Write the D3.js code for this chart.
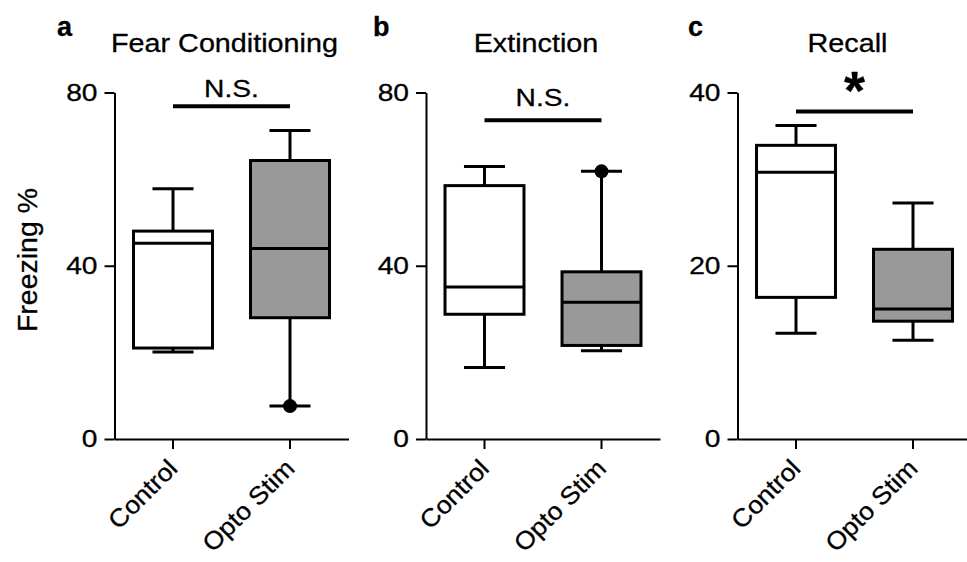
<!DOCTYPE html>
<html lang="en">
	<head>
		<meta charset="utf-8">
		<title>Freezing % - Fear Conditioning, Extinction, Recall</title>
		<script type="text/javascript" src="https://cdn.jsdelivr.net/npm/d3@7"></script>
		<style type="text/css">
			body {
				margin: 0px;
				background: #fff;
			}
			text {
				font-family: "Liberation Sans", Arial, Helvetica, sans-serif;
				fill: #000;
				stroke: #000;
				stroke-width: 0.3px;
			}
		</style>
	</head>
	<body>
		<div id="chart"></div>
		<script type="text/javascript">
		//Data
			var groups = ["Control", "Opto Stim"];
			var panelLetters = ["a", "b", "c"];
			var titles = ["Fear Conditioning", "Extinction", "Recall"];
			var yMax = [80, 80, 40];
			var yTicks = [[0, 40, 80], [0, 40, 80], [0, 20, 40]];

			// box stats: [min, q1, median, q3, max]
			var controlStats = [
				[20.1, 21.0, 45.2, 48.0, 57.8],
				[16.5, 28.8, 35.1, 58.5, 62.9],
				[12.2, 16.35, 30.8, 33.9, 36.2]
			];
			var optoStats = [
				[7.6, 28.0, 44.0, 64.3, 71.2],
				[20.4, 21.6, 31.6, 38.6, 61.8],
				[11.4, 13.6, 15.0, 21.9, 27.25]
			];
			// filled dots at whisker ends (Opto Stim)
			var optoDots = [[7.6], [61.8], []];

			var sigLabels = ["N.S.", "N.S.", "*"];
			var sigLevels = [76.8, 73.6, 37.8];

		//Layout
			var w = 967;
			var h = 562;
			var axisX = [114.5, 426, 737.5];
			var axisW = 234;
			var yTop = 92.5;
			var yBottom = 439;
			var letterX = [57, 373, 688];
			var sigTextDy = [-9, -14, -3];
			var sx = 1.15; // wide sans look

			var svg = d3.select("#chart")
				.append("svg")
				.attr("width", w)
				.attr("height", h);

			// stretch a text horizontally around its own anchor
			function stretch(sel, k) {
				sel.attr("transform", function() {
					var x = +d3.select(this).attr("x") || 0;
					return "translate(" + x + ",0) scale(" + k + ",1) translate(" + (-x) + ",0)";
				});
			}

			// y axis label
			svg.append("text")
				.attr("transform", "translate(37,260) rotate(-90)")
				.attr("text-anchor", "middle")
				.attr("font-size", "28.5px")
				.text("Freezing %");

			panelLetters.forEach(function(letter, i) {
				var g = svg.append("g")
					.attr("transform", "translate(" + axisX[i] + ",0)");

				var x = d3.scaleBand()
					.domain(groups)
					.range([0, axisW]);

				var y = d3.scaleLinear()
					.domain([0, yMax[i]])
					.range([yBottom, yTop]);

				var boxW = x.bandwidth() * 0.675;
				var capW = boxW * 0.52;

				// panel letter
				svg.append("text")
					.attr("x", letterX[i])
					.attr("y", 36)
					.attr("font-size", "27px")
					.attr("font-weight", "bold")
					.text(letter);

				// title
				g.append("text")
					.attr("x", 110)
					.attr("y", 52)
					.attr("text-anchor", "middle")
					.attr("font-size", "25px")
					.text(titles[i])
					.call(stretch, sx);

				// y axis
				var yAxis = g.append("g")
					.attr("class", "y-axis")
					.call(d3.axisLeft(y)
						.tickValues(yTicks[i])
						.tickSize(10)
						.tickSizeOuter(0)
						.tickPadding(7));

				// x axis
				var xAxis = g.append("g")
					.attr("class", "x-axis")
					.attr("transform", "translate(0," + yBottom + ")")
					.call(d3.axisBottom(x)
						.tickSize(10)
						.tickSizeOuter(0)
						.tickFormat(""));

				g.selectAll(".domain, .tick line")
					.attr("stroke", "#000")
					.attr("stroke-width", 2);

				yAxis.selectAll(".tick text")
					.attr("font-size", "24.5px")
					.attr("fill", "#000")
					.call(stretch, sx);

				// rotated category labels
				g.selectAll(".cat-label")
					.data(groups)
					.enter()
					.append("text")
					.attr("class", "cat-label")
					.attr("text-anchor", "end")
					.attr("font-size", "25px")
					.attr("transform", function(d) {
						var cx = x(d) + x.bandwidth() / 2;
						return "translate(" + (cx + 6) + "," + (yBottom + 31) + ") rotate(-45) scale(1.06,1)";
					})
					.text(function(d) { return d; });

				// boxes
				var boxes = [
					{group: groups[0], s: controlStats[i], fill: "#fff", dots: []},
					{group: groups[1], s: optoStats[i], fill: "#999", dots: optoDots[i]}
				];

				var bg = g.selectAll(".box")
					.data(boxes)
					.enter()
					.append("g")
					.attr("class", "box")
					.attr("transform", function(d) {
						return "translate(" + (x(d.group) + x.bandwidth() / 2) + ",0)";
					});

				// whisker lines
				bg.append("line")
					.attr("x1", 0).attr("x2", 0)
					.attr("y1", function(d) { return y(d.s[4]); })
					.attr("y2", function(d) { return y(d.s[3]); })
					.attr("stroke", "#000").attr("stroke-width", 3);
				bg.append("line")
					.attr("x1", 0).attr("x2", 0)
					.attr("y1", function(d) { return y(d.s[1]); })
					.attr("y2", function(d) { return y(d.s[0]); })
					.attr("stroke", "#000").attr("stroke-width", 3);

				// caps
				bg.selectAll(".cap")
					.data(function(d) { return [d.s[0], d.s[4]]; })
					.enter()
					.append("line")
					.attr("class", "cap")
					.attr("x1", -capW / 2).attr("x2", capW / 2)
					.attr("y1", function(v) { return y(v); })
					.attr("y2", function(v) { return y(v); })
					.attr("stroke", "#000").attr("stroke-width", 3);

				// box
				bg.append("rect")
					.attr("x", -boxW / 2)
					.attr("width", boxW)
					.attr("y", function(d) { return y(d.s[3]); })
					.attr("height", function(d) { return y(d.s[1]) - y(d.s[3]); })
					.attr("fill", function(d) { return d.fill; })
					.attr("stroke", "#000")
					.attr("stroke-width", 3);

				// median
				bg.append("line")
					.attr("x1", -boxW / 2).attr("x2", boxW / 2)
					.attr("y1", function(d) { return y(d.s[2]); })
					.attr("y2", function(d) { return y(d.s[2]); })
					.attr("stroke", "#000").attr("stroke-width", 3);

				// dots
				bg.selectAll(".dot")
					.data(function(d) { return d.dots; })
					.enter()
					.append("circle")
					.attr("class", "dot")
					.attr("cx", 0)
					.attr("cy", function(v) { return y(v); })
					.attr("r", 7)
					.attr("fill", "#000");

				// significance bar
				var x0 = x(groups[0]) + x.bandwidth() / 2;
				var x1 = x(groups[1]) + x.bandwidth() / 2;
				g.append("line")
					.attr("x1", x0).attr("x2", x1)
					.attr("y1", y(sigLevels[i]))
					.attr("y2", y(sigLevels[i]))
					.attr("stroke", "#000")
					.attr("stroke-width", 4);

				var sig = g.append("text")
					.attr("x", (x0 + x1) / 2)
					.attr("y", y(sigLevels[i]) + sigTextDy[i])
					.attr("text-anchor", "middle")
					.text(sigLabels[i]);

				if (sigLabels[i] == "*") {
					sig.attr("font-size", "54px")
						.attr("font-weight", "bold");
				} else {
					sig.attr("font-size", "24.5px")
						.call(stretch, sx);
				}
			});
		</script>
	</body>
</html>
